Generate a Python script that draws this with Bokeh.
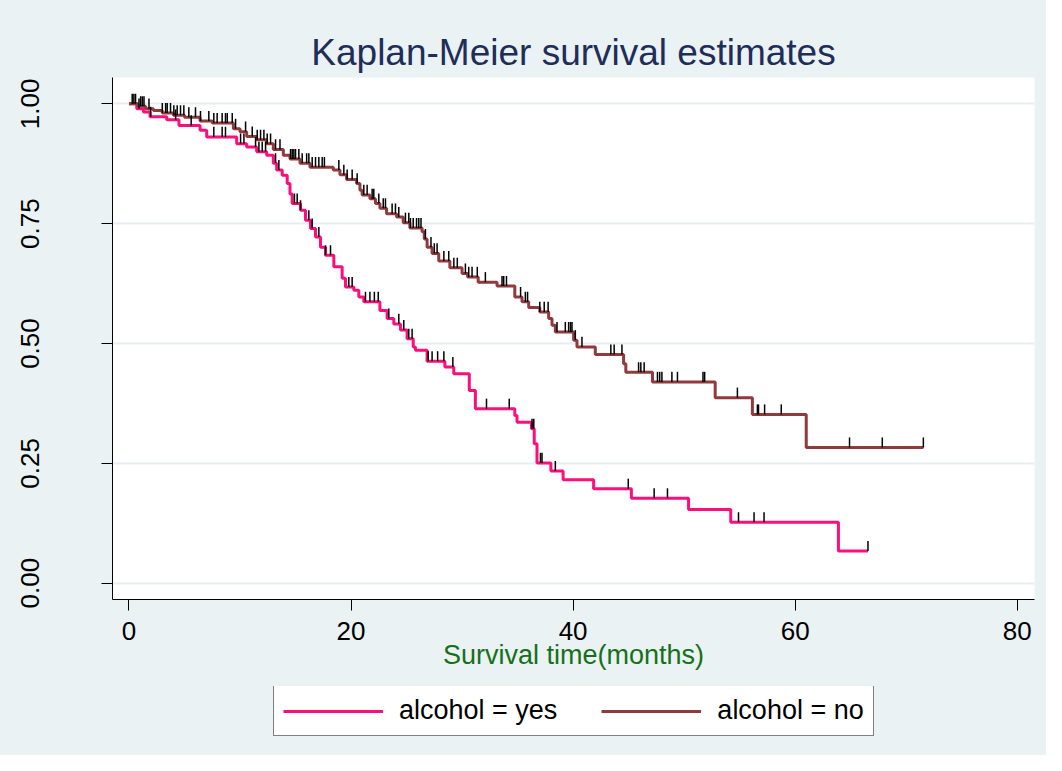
import numpy as np
from bokeh.plotting import figure
from bokeh.layouts import column
from bokeh.models import Range1d, FixedTicker, NumeralTickFormatter, Legend, LegendItem
from bokeh.embed import file_html
from bokeh.resources import INLINE

title_text = "Kaplan-Meier survival estimates"
x_label = "Survival time(months)"
group_labels = ["alcohol = yes", "alcohol = no"]
x_ticks = [0, 20, 40, 60, 80]
y_ticks = [0.0, 0.25, 0.5, 0.75, 1.0]

# alcohol = yes : event times and survival after each drop
yes_times = [0.7, 1.3, 1.9, 3.4, 4.5, 6.4, 7.0, 9.7, 10.6, 11.5, 12.4, 13.0, 13.3,
             13.8, 14.25, 14.5, 14.7, 15.45, 15.9, 16.35, 16.8, 17.25, 17.7, 18.45,
             19.2, 19.5, 20.25, 20.7, 21.15, 22.6, 23.25, 23.85, 24.45, 25.05, 25.6,
             25.8, 26.85, 28.45, 29.25, 30.65, 31.2, 34.75, 34.95, 36.25, 36.5, 36.75,
             38.0, 39.1, 41.85, 45.25, 50.4, 54.2, 63.9]
yes_surv = [0.990, 0.983, 0.973, 0.967, 0.955, 0.945, 0.931, 0.917, 0.910, 0.900, 0.893,
            0.876, 0.862, 0.851, 0.834, 0.812, 0.792, 0.778, 0.757, 0.740, 0.722, 0.701,
            0.684, 0.660, 0.636, 0.618, 0.611, 0.597, 0.587, 0.569, 0.552, 0.541, 0.528,
            0.510, 0.493, 0.486, 0.463, 0.451, 0.437, 0.402, 0.364, 0.350, 0.336, 0.322,
            0.291, 0.251, 0.234, 0.216, 0.197, 0.177, 0.154, 0.127, 0.067]
yes_end = 66.56
yes_censor = [0.9, 1.95, 4.2, 5.6, 7.64, 8.39, 8.69, 10.05, 10.35, 11.4, 11.7, 12.0, 12.3,
              13.2, 13.5, 14.9, 15.15, 15.45, 16.2, 16.5, 17.1, 17.7, 18.15, 19.8, 20.1,
              21.3, 21.7, 22.1, 22.45, 23.4, 24.3, 24.75, 25.2, 25.5, 26.95, 27.3, 27.8,
              28.36, 29.17, 32.2, 34.25, 36.3, 36.46, 37.06, 37.2, 38.4, 44.97, 47.3,
              48.5, 54.9, 56.3, 57.2, 66.56]

# alcohol = no
no_times = [0.8, 1.5, 2.2, 3.0, 4.0, 5.0, 6.4, 7.5, 9.4, 10.0, 10.6, 11.5, 12.4, 13.0,
            13.9, 14.5, 15.4, 16.3, 18.4, 19.0, 19.6, 20.5, 20.8, 21.0, 21.7, 22.2, 22.6,
            23.2, 24.1, 24.7, 25.3, 26.4, 26.6, 26.85, 27.3, 27.9, 28.9, 30.0, 30.5,
            31.45, 33.15, 34.75, 35.4, 36.0, 37.0, 37.8, 38.1, 38.4, 40.05, 40.35, 42.0,
            44.55, 44.75, 47.15, 52.8, 56.15, 61.0]
no_surv = [0.995, 0.990, 0.986, 0.981, 0.976, 0.972, 0.964, 0.960, 0.948, 0.942, 0.932,
           0.925, 0.917, 0.905, 0.893, 0.885, 0.876, 0.868, 0.862, 0.852, 0.842, 0.834,
           0.820, 0.810, 0.802, 0.792, 0.782, 0.771, 0.764, 0.752, 0.741, 0.733, 0.718,
           0.701, 0.688, 0.672, 0.658, 0.646, 0.639, 0.628, 0.620, 0.597, 0.587, 0.575,
           0.566, 0.552, 0.538, 0.524, 0.507, 0.493, 0.477, 0.458, 0.440, 0.420, 0.387,
           0.352, 0.283]
no_end = 71.55
no_censor = [0.29, 0.44, 0.59, 1.05, 1.2, 1.35, 1.8, 3.0, 3.3, 3.44, 3.74, 4.04, 4.34,
             4.64, 4.94, 5.39, 5.99, 6.44, 7.19, 7.64, 7.94, 8.39, 8.69, 8.85, 9.3, 9.6,
             10.5, 11.1, 11.55, 11.85, 12.15, 12.45, 12.75, 13.2, 13.6, 14.55, 14.7, 14.85,
             15.0, 15.3, 15.6, 16.0, 16.2, 16.5, 16.8, 17.1, 17.4, 17.6, 18.9, 19.35,
             19.65, 20.1, 20.55, 21.15, 21.45, 21.9, 22.05, 22.5, 22.9, 23.1, 23.7, 24.0,
             24.3, 24.9, 25.2, 25.35, 25.6, 25.9, 26.1, 26.3, 26.7, 27.2, 27.5, 27.75,
             28.36, 28.8, 29.26, 29.57, 30.3, 30.6, 30.9, 31.37, 32.1, 33.6, 33.75, 34.0,
             35.27, 35.7, 35.9, 37.0, 37.4, 37.75, 38.55, 39.3, 39.6, 39.77, 39.9, 40.2,
             40.8, 43.4, 43.7, 44.4, 45.9, 46.1, 46.4, 47.6, 47.8, 48.0, 48.9, 49.4,
             51.7, 51.85, 54.8, 56.6, 56.7, 57.25, 58.75, 64.9, 67.85, 71.55]

yes_color = "#FA0F7C"
no_color = "#913A3E"
bg_color = "#EAF2F3"
tick_len = 0.021

p = figure(width=1046, height=686, output_backend="svg", toolbar_location=None,
           x_range=Range1d(-1.486, 81.56), y_range=Range1d(-0.034, 1.055),
           min_border_left=112, min_border_right=12, min_border_top=77,
           min_border_bottom=87)
p.background_fill_color = "white"
p.border_fill_color = bg_color
p.outline_line_color = None

p.title.text = title_text
p.title.align = "center"
p.title.text_font = "Liberation Sans"
p.title.text_font_size = "37px"
p.title.text_font_style = "normal"
p.title.text_color = "#1F2D5A"
p.title.standoff = 9

p.xgrid.grid_line_color = None
p.ygrid.grid_line_color = "#E6EEF1"
p.ygrid.grid_line_width = 2

for ax in (p.xaxis[0], p.yaxis[0]):
    ax.axis_line_color = "black"
    ax.axis_line_width = 1
    ax.major_tick_line_color = "black"
    ax.major_tick_out = 11
    ax.major_tick_in = 0
    ax.minor_tick_line_color = None
    ax.major_label_text_font = "Liberation Sans"
    ax.major_label_text_font_size = "26px"
    ax.major_label_text_color = "black"

p.xaxis.ticker = FixedTicker(ticks=x_ticks)
p.xaxis.major_label_standoff = 11
p.xaxis.axis_label = x_label
p.xaxis.axis_label_text_font = "Liberation Sans"
p.xaxis.axis_label_text_font_size = "27px"
p.xaxis.axis_label_text_font_style = "normal"
p.xaxis.axis_label_text_color = "#16701A"
p.xaxis.axis_label_standoff = -3

p.yaxis.ticker = FixedTicker(ticks=y_ticks)
p.yaxis.formatter = NumeralTickFormatter(format="0.00")
p.yaxis.major_label_orientation = "vertical"
p.yaxis.major_label_standoff = 62


def step_xy(times, surv, end):
    xs = [0.0] + list(times) + [end]
    ys = [1.0] + list(surv) + [surv[-1]]
    return xs, ys


def surv_at(times, surv, t):
    idx = np.searchsorted(np.array(times), np.array(t), side="right")
    full = np.concatenate([[1.0], np.array(surv)])
    return full[idx]


xs, ys = step_xy(yes_times, yes_surv, yes_end)
p.step(xs, ys, mode="after", line_color=yes_color, line_width=3)
xs, ys = step_xy(no_times, no_surv, no_end)
p.step(xs, ys, mode="after", line_color=no_color, line_width=3)

for cens, times, surv in ((yes_censor, yes_times, yes_surv), (no_censor, no_times, no_surv)):
    s = surv_at(times, surv, cens)
    p.segment(x0=cens, y0=s, x1=cens, y1=s + tick_len, line_color="black", line_width=1.5)

# legend strip below the plot, same background; its frame lines up with the plot frame
q = figure(width=1046, height=69, output_backend="svg", toolbar_location=None,
           x_range=Range1d(0, 1), y_range=Range1d(0, 1),
           min_border_left=112, min_border_right=12, min_border_top=0,
           min_border_bottom=0, x_axis_type=None, y_axis_type=None)
q.background_fill_color = bg_color
q.border_fill_color = bg_color
q.outline_line_color = None
q.grid.visible = False
k_yes = q.line(x=[np.nan], y=[np.nan], line_color=yes_color, line_width=3)
k_no = q.line(x=[np.nan], y=[np.nan], line_color=no_color, line_width=3)

legend = Legend(items=[LegendItem(label=group_labels[0], renderers=[k_yes]),
                       LegendItem(label=group_labels[1], renderers=[k_no])],
                orientation="horizontal", location=(161, 19), margin=0,
                glyph_width=100, glyph_height=20, label_standoff=16, spacing=44,
                padding=9, border_line_color="black", border_line_width=1,
                background_fill_color="white", background_fill_alpha=1.0,
                label_text_font="Liberation Sans", label_text_font_size="27px",
                label_text_color="black")
q.add_layout(legend)

layout = column(p, q, spacing=0, styles={"background-color": bg_color})
open("out.html", "w").write(file_html(layout, INLINE))
